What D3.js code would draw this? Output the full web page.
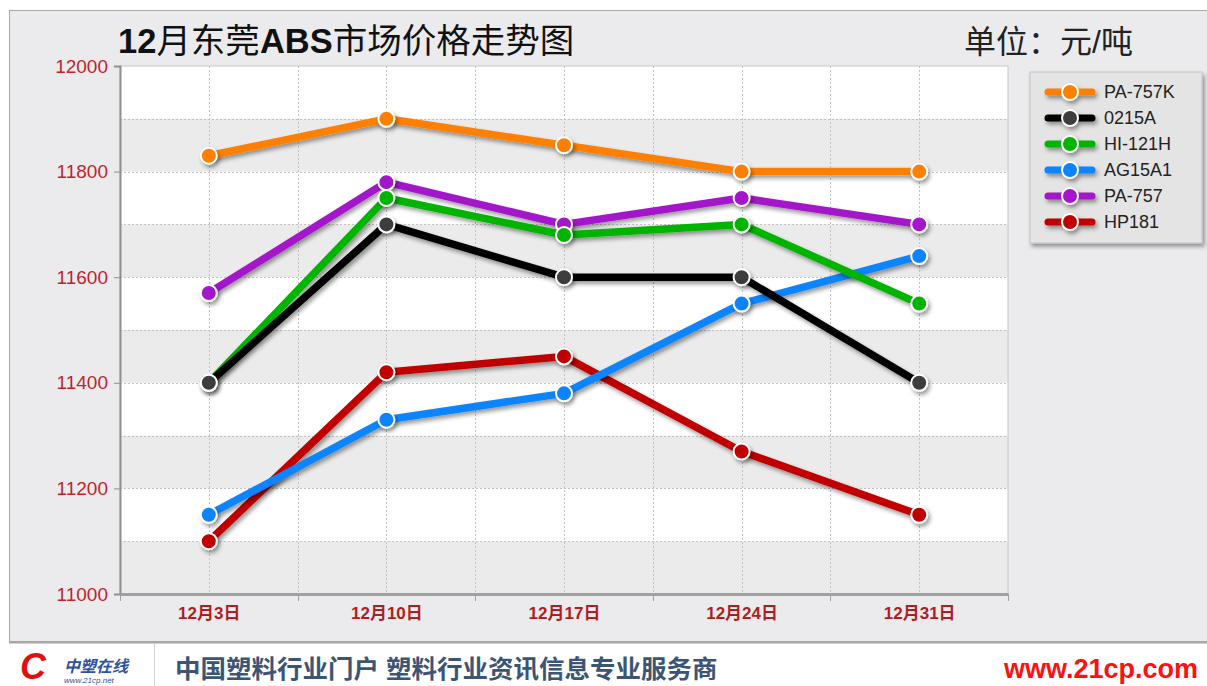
<!DOCTYPE html>
<html>
<head>
<meta charset="utf-8">
<script src="https://cdn.jsdelivr.net/npm/d3@7"></script>
<style>
  body { margin: 0; background: #fff; }
  svg { display: block; }
  text { font-family: "Liberation Sans", Arial, "Noto Sans CJK SC", sans-serif; }
</style>
</head>
<body>
<script>
var dates = ["12月3日", "12月10日", "12月17日", "12月24日", "12月31日"];
var seriesNames = ["PA-757K", "0215A", "HI-121H", "AG15A1", "PA-757", "HP181"];
var pa757k = [11830, 11900, 11850, 11800, 11800];
var s0215a = [11400, 11700, 11600, 11600, 11400];
var hi121h = [11400, 11750, 11680, 11700, 11550];
var ag15a1 = [11150, 11330, 11380, 11550, 11640];
var pa757 = [11570, 11780, 11700, 11750, 11700];
var hp181 = [11100, 11420, 11450, 11270, 11150];
var yTicks = [11000, 11200, 11400, 11600, 11800, 12000];

var lineColors = ["#ff8000", "#000000", "#00b400", "#0a84ff", "#a314c9", "#c00000"];
var dotColors = ["#ff8000", "#3c3c3c", "#00b400", "#0a84ff", "#a314c9", "#c00000"];

var series = [pa757k, s0215a, hi121h, ag15a1, pa757, hp181].map(function(vals, i) {
    return { name: seriesNames[i], values: vals, color: lineColors[i], dot: dotColors[i] };
});

var width = 1207, height = 686;
var plotLeft = 120, plotRight = 1008, plotTop = 66, plotBottom = 594;

var svg = d3.select("body").append("svg")
    .attr("width", width)
    .attr("height", height);

// shadow filter; region is big enough for translated groups too
var defs = svg.append("defs");
var sh = defs.append("filter").attr("id", "shadow")
    .attr("filterUnits", "userSpaceOnUse")
    .attr("x", -1500).attr("y", -1000).attr("width", 3000).attr("height", 2000);
sh.append("feDropShadow")
    .attr("dx", 2).attr("dy", 3).attr("stdDeviation", 2)
    .attr("flood-color", "#000").attr("flood-opacity", 0.4);

// outer panel
svg.append("rect")
    .attr("x", 9.5).attr("y", 10.5)
    .attr("width", 1210).attr("height", 631)
    .attr("fill", "#ebebee").attr("stroke", "#a8a8a8");

var x = d3.scalePoint().domain(dates).range([plotLeft, plotRight]).padding(0.5);
var step = x.step();
var y = d3.scaleLinear().domain([11000, 12000]).range([plotBottom, plotTop]);

// plot background bands
var bands = d3.range(11000, 12000, 100);
svg.append("rect")
    .attr("x", plotLeft).attr("y", plotTop)
    .attr("width", plotRight - plotLeft).attr("height", plotBottom - plotTop)
    .attr("fill", "#fff");
svg.append("g").selectAll("rect")
    .data(bands.filter(function(d) { return ((d - 11000) / 100) % 2 === 0; }))
    .enter().append("rect")
    .attr("x", plotLeft)
    .attr("y", function(d) { return y(d + 100); })
    .attr("width", plotRight - plotLeft)
    .attr("height", function(d) { return y(d) - y(d + 100); })
    .attr("fill", "#ebebeb");

// gridlines
var grid = svg.append("g")
    .attr("stroke", "#c2c2c2")
    .attr("stroke-dasharray", "2,2")
    .attr("stroke-width", 1);
grid.selectAll("line.h")
    .data(d3.range(11100, 12000, 100))
    .enter().append("line")
    .attr("x1", plotLeft).attr("x2", plotRight)
    .attr("y1", function(d) { return Math.round(y(d)) + 0.5; })
    .attr("y2", function(d) { return Math.round(y(d)) + 0.5; });
var vlines = dates.map(function(d) { return x(d); })
    .concat(dates.slice(1).map(function(d) { return x(d) - step / 2; }));
grid.selectAll("line.v")
    .data(vlines)
    .enter().append("line")
    .attr("x1", function(d) { return Math.round(d) + 0.5; })
    .attr("x2", function(d) { return Math.round(d) + 0.5; })
    .attr("y1", plotTop).attr("y2", plotBottom);

// plot border
svg.append("rect")
    .attr("x", plotLeft).attr("y", plotTop)
    .attr("width", plotRight - plotLeft).attr("height", plotBottom - plotTop)
    .attr("fill", "none").attr("stroke", "#c8c8c8");

// y axis
var yAxis = svg.append("g")
    .attr("transform", "translate(" + plotLeft + ",0)")
    .call(d3.axisLeft(y).tickValues(yTicks).tickSize(6).tickPadding(6).tickFormat(d3.format("d")));
yAxis.select(".domain").attr("stroke", "#909090").attr("stroke-width", 2);
yAxis.selectAll(".tick line").attr("stroke", "#909090");
yAxis.selectAll("text")
    .attr("fill", "#c0242a")
    .attr("font-size", 19);

// x axis
var xAxis = svg.append("g")
    .attr("transform", "translate(0," + plotBottom + ")")
    .call(d3.axisBottom(x).tickSize(0).tickPadding(13));
xAxis.select(".domain").attr("stroke", "#a0a0a0").attr("stroke-width", 3);
xAxis.selectAll("text")
    .attr("fill", "#b01c20")
    .attr("font-size", 17)
    .attr("font-weight", "bold")
    .attr("dy", "0.71em");
svg.append("g").selectAll("line")
    .data(vlines.slice(dates.length).concat([plotLeft, plotRight]))
    .enter().append("line")
    .attr("x1", function(d) { return Math.round(d) + 0.5; })
    .attr("x2", function(d) { return Math.round(d) + 0.5; })
    .attr("y1", plotBottom).attr("y2", plotBottom + 7)
    .attr("stroke", "#a0a0a0");

// lines
var line = d3.line()
    .x(function(d, i) { return x(dates[i]); })
    .y(function(d) { return y(d); });

var sg = svg.append("g").selectAll("g")
    .data(series.slice().reverse())
    .enter().append("g")
    .attr("filter", "url(#shadow)");
sg.append("path")
    .attr("d", function(d) { return line(d.values); })
    .attr("fill", "none")
    .attr("stroke", function(d) { return d.color; })
    .attr("stroke-width", 7.5)
    .attr("stroke-linejoin", "round");

var dg = svg.append("g").selectAll("g")
    .data(series.slice().reverse())
    .enter().append("g")
    .attr("filter", "url(#shadow)");
dg.selectAll("circle")
    .data(function(d) { return d.values.map(function(v, i) { return { v: v, i: i, c: d.dot }; }); })
    .enter().append("circle")
    .attr("cx", function(d) { return x(dates[d.i]); })
    .attr("cy", function(d) { return y(d.v); })
    .attr("r", 8)
    .attr("fill", function(d) { return d.c; })
    .attr("stroke", "#fff")
    .attr("stroke-width", 2);

// title
svg.append("text")
    .attr("x", 118).attr("y", 53)
    .attr("font-size", 34.5)
    .attr("fill", "#111")
    .attr("font-family", "'Noto Sans CJK SC', sans-serif")
    .html("<tspan font-weight='bold' font-family='Liberation Sans, Arial'>12</tspan>月东莞<tspan font-weight='bold' font-family='Liberation Sans, Arial'>ABS</tspan>市场价格走势图");
svg.append("text")
    .attr("x", 964).attr("y", 53)
    .attr("font-size", 32)
    .attr("fill", "#222")
    .attr("font-family", "'Noto Sans CJK SC', sans-serif")
    .text("单位：元/吨");

// legend
var lg = svg.append("g").attr("transform", "translate(1030,72)");
lg.append("rect")
    .attr("width", 172).attr("height", 171)
    .attr("fill", "#e4e4e4")
    .attr("stroke", "#c4c4c4")
    .attr("filter", "url(#shadow)");
var li = lg.selectAll("g.item")
    .data(series)
    .enter().append("g")
    .attr("transform", function(d, i) { return "translate(0," + (20 + i * 26) + ")"; });
var lsym = li.append("g").attr("filter", "url(#shadow)");
lsym.append("line")
    .attr("x1", 18).attr("x2", 62)
    .attr("y1", 0).attr("y2", 0)
    .attr("stroke", function(d) { return d.color; })
    .attr("stroke-width", 7)
    .attr("stroke-linecap", "round");
lsym.append("circle")
    .attr("cx", 40).attr("cy", 0).attr("r", 8)
    .attr("fill", function(d) { return d.dot; })
    .attr("stroke", "#fff").attr("stroke-width", 2);
li.append("text")
    .attr("x", 74).attr("dy", "0.36em")
    .attr("font-size", 18)
    .attr("fill", "#222")
    .text(function(d) { return d.name; });

// footer
svg.append("rect")
    .attr("x", 0).attr("y", 642).attr("width", width).attr("height", 44)
    .attr("fill", "#fff");
svg.append("line")
    .attr("x1", 9).attr("x2", width).attr("y1", 642.5).attr("y2", 642.5)
    .attr("stroke", "#a8a8a8").attr("stroke-width", 2);
svg.append("line")
    .attr("x1", 154.5).attr("x2", 154.5).attr("y1", 643).attr("y2", 686)
    .attr("stroke", "#d0d0d0");
svg.append("text")
    .attr("x", 20).attr("y", 679)
    .attr("font-size", 36)
    .attr("font-style", "italic")
    .attr("font-weight", "bold")
    .attr("fill", "#e01010")
    .text("C");
svg.append("text")
    .attr("x", 64).attr("y", 672)
    .attr("font-size", 16)
    .attr("font-style", "italic")
    .attr("font-weight", "bold")
    .attr("fill", "#3050a0")
    .attr("font-family", "'Noto Sans CJK SC', sans-serif")
    .text("中塑在线");
svg.append("text")
    .attr("x", 64).attr("y", 683)
    .attr("font-size", 8)
    .attr("font-style", "italic")
    .attr("fill", "#3050a0")
    .text("www.21cp.net");
svg.append("text")
    .attr("x", 175).attr("y", 678)
    .attr("font-size", 25.5)
    .attr("font-weight", "bold")
    .attr("fill", "#3d5575")
    .attr("font-family", "'Noto Sans CJK SC', sans-serif")
    .text("中国塑料行业门户 塑料行业资讯信息专业服务商");
svg.append("text")
    .attr("x", 1198).attr("y", 678)
    .attr("text-anchor", "end")
    .attr("font-size", 27)
    .attr("font-weight", "bold")
    .attr("fill", "#ff1010")
    .text("www.21cp.com");
</script>
</body>
</html>
